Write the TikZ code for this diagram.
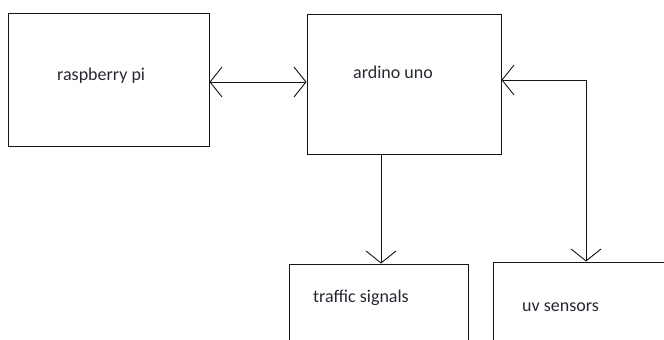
\documentclass[tikz,border=0pt]{standalone}
\usepackage{fontspec}
\setmainfont{Carlito}
\usetikzlibrary{arrows.meta}
\definecolor{ink}{RGB}{20,20,20}
\definecolor{txt}{RGB}{40,40,50}
\begin{document}
\begin{tikzpicture}[x=1pt,y=1pt,
  box/.style={draw=ink,line width=0.9pt,inner sep=0pt,minimum width=#1},
  lbl/.style={anchor=base west,inner sep=0pt,text=txt,font=\fontsize{18pt}{20pt}\selectfont},
  conn/.style={draw=ink,line width=0.9pt},
  barb/.tip={Straight Barb[length=12pt,width=30pt,line width=0.9pt]}]
\useasboundingbox (0,0) rectangle (664,-340);
\clip (0,0) rectangle (664,-340);
\fill[white] (0,0) rectangle (664,-340);
% boxes
\node[box=201pt,minimum height=133pt] (rpi) at (108.5,-79.5) {};
\node[box=194pt,minimum height=140pt] (ard) at (404,-84) {};
\node[box=179pt,minimum height=100pt] (traffic) at (378.5,-314) {};
\node[box=186pt,minimum height=100pt] (uv) at (586,-312) {};
% labels
\node[lbl] (trpi) at (57,-80) {raspberry pi};
\node[lbl] (tard) at (353,-78) {ardino uno};
\node[lbl] (ttraffic) at (313,-302) {traffic signals};
\node[lbl] (tuv) at (522,-311) {uv sensors};
% connectors
\draw[conn,barb-barb] (rpi.east |- 0,-82) -- (ard.west |- 0,-82);
\draw[conn,-barb] (ard.south -| 381,0) -- (traffic.north -| 381,0);
\draw[conn,barb-barb] (ard.east |- 0,-80) -| (uv.north);
\end{tikzpicture}
\end{document}
